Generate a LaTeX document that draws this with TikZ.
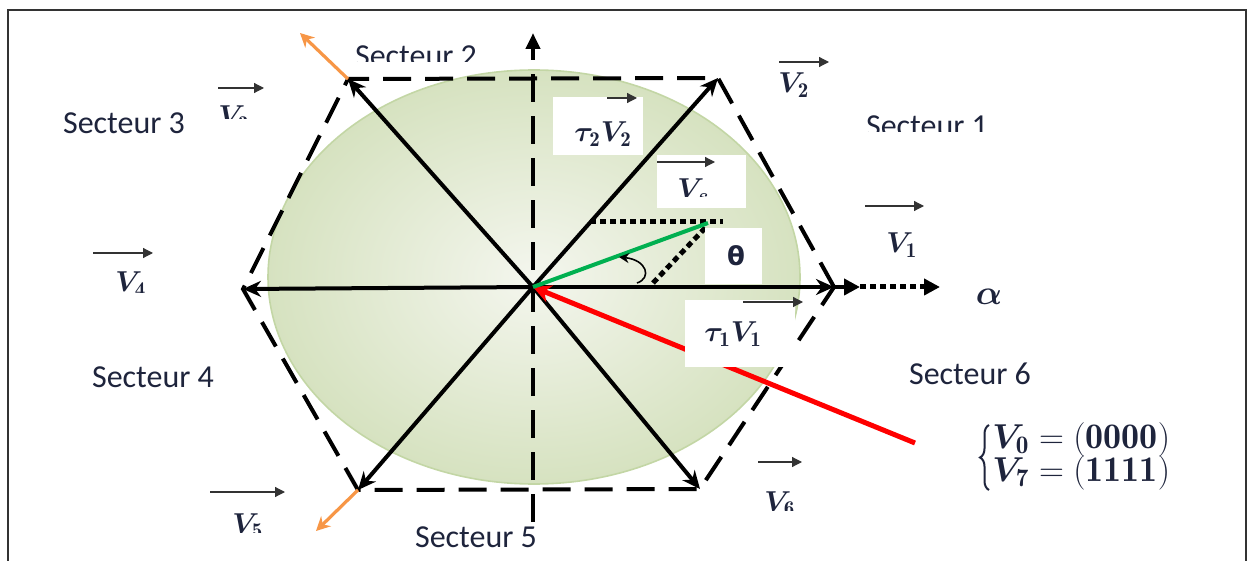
\documentclass[tikz,border=0pt]{standalone}
\usepackage{fontspec}
\usepackage{amsmath,bm}
\newfontfamily\carlito{Carlito}
\newfontfamily\dejavu{DejaVu Sans}
\usetikzlibrary{arrows.meta,decorations.pathreplacing}
\definecolor{txt}{RGB}{30,36,60}
\definecolor{elin}{RGB}{244,246,238}
\definecolor{elout}{RGB}{214,226,192}
\definecolor{elrim}{RGB}{195,214,165}
\definecolor{orng}{RGB}{247,150,70}
\definecolor{grn}{RGB}{0,176,80}
\begin{document}
\begin{tikzpicture}[x=0.5pt,y=-0.5pt,
  vec/.style={line width=2pt, -{Stealth[length=9pt,width=8pt]}},
  hexe/.style={line width=2pt, dash pattern=on 14pt off 7pt},
  sect/.style={font=\carlito\fontsize{16}{18}\selectfont, text=txt, inner sep=0pt, anchor=base},
  mlab/.style={font=\fontsize{15}{17}\selectfont, text=txt, inner sep=0pt, anchor=base west},
  syslab/.style={font=\fontsize{18}{20}\selectfont, text=txt, inner sep=0pt, anchor=base west},
  larr/.style={line width=0.6pt, black!80, -{Triangle[length=5pt,width=5pt]}},
  wbox/.style={fill=white, draw=none, inner sep=0pt},
  dotl/.style={line width=2.5pt, dash pattern=on 3pt off 2pt}
]
\useasboundingbox (0,0) rectangle (1248,561);
% frame
\draw[line width=1pt, black!80] (8,580) -- (8,10) -- (1246,10) -- (1246,580);

% shaded ellipse
\shade[inner color=elin, outer color=elout, draw=elrim, line width=0.8pt]
  (534,277) ellipse [x radius=266, y radius=207];

% coordinates
\coordinate (O) at (533,287);
\coordinate (H1) at (834,287);
\coordinate (H2) at (718,78);
\coordinate (H3) at (348,79);
\coordinate (H4) at (243,289);
\coordinate (H5) at (358,490);
\coordinate (H6) at (700,489);
\coordinate (Vbot) at (533,522);
\coordinate (Vtop) at (533,33);
\coordinate (Ax1) at (860,287);
\coordinate (Ax2) at (940,287);
\coordinate (Ored3) at (300,33);
\coordinate (Ored5) at (316,531);
\coordinate (R) at (915,443);
\coordinate (G) at (708,223);
\coordinate (D1) at (590,222);
\coordinate (D2) at (723,222);
\coordinate (D3) at (653,283);
\coordinate (D4) at (707,226);

% hexagon
\draw[hexe] (H1) -- (H2) -- (H3) -- (H4) -- (H5) -- (H6) -- cycle;
% vertical axis
\draw[hexe, -{Triangle[length=8pt,width=7pt]}] (Vbot) -- (Vtop);

% main vectors
\draw[vec] (O) -- (H1);
\draw[vec] (O) -- (H2);
\draw[vec] (O) -- (H3);
\draw[vec] (O) -- (H4);
\draw[vec] (O) -- (H5);
\draw[vec] (O) -- (H6);
\draw[line width=2pt, -{Triangle[length=8pt,width=8pt]}] (H1) -- (Ax1);
\draw[dotl, -{Triangle[length=8pt,width=8pt]}] (Ax1) -- (Ax2);

% orange
\draw[orng, line width=1.6pt, -{Stealth[length=7pt,width=7pt]}] (H3) -- (Ored3);
\draw[orng, line width=1.6pt, -{Stealth[length=7pt,width=7pt]}] (H5) -- (Ored5);

% red
\draw[red, line width=2.5pt, -{Stealth[length=9pt,width=9pt]}] (R) -- (O);

% green and dotted
\draw[dotl] (D1) -- (D2);
\draw[dotl] (D3) -- (D4);
\draw[grn, line width=2pt] (O) -- (G);
\draw[line width=0.8pt, -{Stealth[length=5pt,width=5pt]}] (637,283) .. controls (652,278) and (647,260) .. (619,257);

% white boxes
\node[wbox, minimum width=45pt, minimum height=29pt] (bt2) at (598,126) {};
\node[wbox, minimum width=44.5pt, minimum height=26.5pt] (bvs) at (701.5,181.5) {};
\node[wbox, minimum width=28.5pt, minimum height=28pt] (bth) at (733.5,256) {};
\node[wbox, minimum width=55pt, minimum height=33.5pt] (bt1) at (740,333.5) {};

% label arrows
\coordinate (a1s) at (865,206); \coordinate (a1e) at (924,206);
\coordinate (a2s) at (779,62);  \coordinate (a2e) at (829,62);
\coordinate (a3s) at (218,88);  \coordinate (a3e) at (264,88);
\coordinate (a4s) at (93,253);  \coordinate (a4e) at (153,253);
\coordinate (a5s) at (210,492); \coordinate (a5e) at (285,492);
\coordinate (a6s) at (758,462); \coordinate (a6e) at (802,462);
\coordinate (avs) at (657,162); \coordinate (ave) at (715,162);
\coordinate (at2s) at (607,98); \coordinate (at2e) at (637,98);
\coordinate (at1s) at (743,302); \coordinate (at1e) at (803,302);
\foreach \s/\e in {a1s/a1e,a2s/a2e,a3s/a3e,a4s/a4e,a5s/a5e,a6s/a6e,avs/ave,at2s/at2e,at1s/at1e}
  \draw[larr] (\s) -- (\e);

% math labels
\node[mlab] (lv1) at (886,253) {$\bm{V}_{\mathbf{1}}$};
\node[mlab] (lv2) at (778,93) {$\bm{V}_{\mathbf{2}}$};
\begin{scope}
  \clip (200,90) rectangle (280,119);
  \node[mlab] (lv3) at (218,126) {$\bm{V}_{\mathbf{3}}$};
\end{scope}
\begin{scope}
  \clip (100,260) rectangle (170,293);
  \node[mlab] (lv4) at (115,292) {$\bm{V}_{\mathbf{4}}$};
\end{scope}
\begin{scope}
  \clip (220,495) rectangle (290,532);
  \node[mlab] (lv5) at (232,533) {$\bm{V}_{\mathbf{5}}$};
\end{scope}
\begin{scope}
  \clip (750,475) rectangle (820,510);
  \node[mlab] (lv6) at (764,511) {$\bm{V}_{\mathbf{6}}$};
\end{scope}
\begin{scope}
  \clip (660,165) rectangle (745,197);
  \node[mlab] (lvs) at (677,199) {$\bm{V}_{\bm{s}}$};
\end{scope}
\node[mlab] (lt2) at (574,142) {$\bm{\tau}_{\mathbf{2}}\bm{V}_{\mathbf{2}}$};
\node[mlab] (lt1) at (704,342) {$\bm{\tau}_{\mathbf{1}}\bm{V}_{\mathbf{1}}$};
\node[inner sep=0pt, text=txt, font=\dejavu\bfseries\fontsize{13}{15}\selectfont] (lth) at (736,256) {θ};
\node[inner sep=0pt, text=txt, font=\fontsize{16}{17}\selectfont] (lal) at (989,297) {$\bm{\alpha}$};

% sectors
\node[sect] (s3) at (124,134) {Secteur 3};
\node[sect] (s4) at (153,387) {Secteur 4};
\node[sect] (s5) at (476,547) {Secteur 5};
\node[sect] (s6) at (970,385) {Secteur 6};
\begin{scope}
  \clip (340,20) rectangle (500,62);
  \node[sect] (s2) at (416,67) {Secteur 2};
\end{scope}
\begin{scope}
  \clip (850,100) rectangle (1010,132);
  \node[sect] (s1) at (927,137) {Secteur 1};
\end{scope}

% V0 / V7
\coordinate (brb) at (989,490);
\coordinate (brt) at (989,425);
\draw[txt, line width=1pt, decorate, decoration={brace, amplitude=4.5pt}] (brb) -- (brt);
\begin{scope}
  \clip (940,418) rectangle (1176,505);
  \node[syslab] (sv0) at (992,448) {\smash{$\bm{V}_{\mathbf{0}}=\mathbf{(0000)}$}};
  \node[syslab] (sv7) at (992,481) {\smash{$\bm{V}_{\mathbf{7}}=\mathbf{(1111)}$}};
\end{scope}
\end{tikzpicture}
\end{document}
